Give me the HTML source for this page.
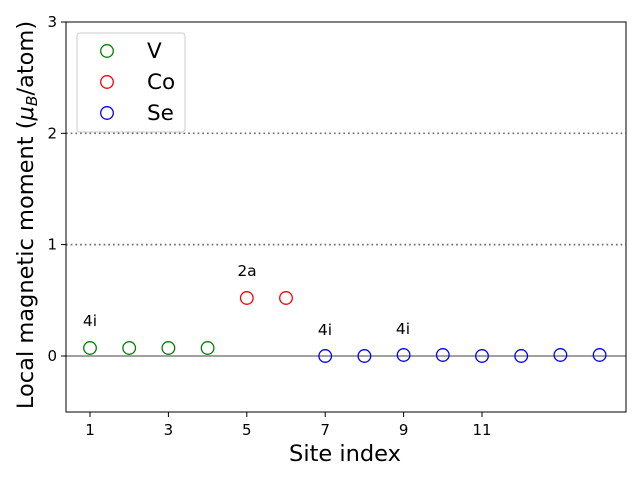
<!DOCTYPE html>
<html><head><meta charset="utf-8"><style>body{margin:0;background:#fff}svg{display:block}text{font-family:"DejaVu Sans","Liberation Sans",sans-serif}</style></head><body>
<svg width="640" height="480" xmlns="http://www.w3.org/2000/svg">
<rect width="640" height="480" fill="#fff"/>
<line x1="66" y1="133.3" x2="626" y2="133.3" stroke="#707070" stroke-width="1.7" stroke-dasharray="1.7,3"/>
<line x1="66" y1="244.6" x2="626" y2="244.6" stroke="#707070" stroke-width="1.7" stroke-dasharray="1.7,3"/>
<line x1="66" y1="356" x2="626" y2="356" stroke="#808080" stroke-width="1.5"/>
<g fill="none" stroke-width="1.3">
<circle cx="90" cy="348" r="6.3" stroke="green"/>
<circle cx="129.2" cy="348" r="6.3" stroke="green"/>
<circle cx="168.4" cy="348" r="6.3" stroke="green"/>
<circle cx="207.6" cy="348" r="6.3" stroke="green"/>
<circle cx="246.8" cy="298" r="6.3" stroke="red"/>
<circle cx="286" cy="298" r="6.3" stroke="red"/>
<circle cx="325.2" cy="356" r="6.3" stroke="blue"/>
<circle cx="364.4" cy="356" r="6.3" stroke="blue"/>
<circle cx="403.6" cy="355" r="6.3" stroke="blue"/>
<circle cx="442.8" cy="355" r="6.3" stroke="blue"/>
<circle cx="482" cy="356" r="6.3" stroke="blue"/>
<circle cx="521.2" cy="356" r="6.3" stroke="blue"/>
<circle cx="560.4" cy="355" r="6.3" stroke="blue"/>
<circle cx="599.6" cy="355" r="6.3" stroke="blue"/>
</g>
<g font-size="15.5" text-anchor="middle">
<text x="90" y="326">4i</text>
<text x="247" y="276">2a</text>
<text x="325" y="335">4i</text>
<text x="403" y="334">4i</text>
</g>
<rect x="66" y="22" width="560" height="390" fill="none" stroke="#000" stroke-width="1"/>
<g stroke="#000" stroke-width="1">
<line x1="90" y1="412" x2="90" y2="417"/><line x1="168.4" y1="412" x2="168.4" y2="417"/><line x1="246.8" y1="412" x2="246.8" y2="417"/><line x1="325.2" y1="412" x2="325.2" y2="417"/><line x1="403.6" y1="412" x2="403.6" y2="417"/><line x1="482" y1="412" x2="482" y2="417"/>
<line x1="61" y1="356" x2="66" y2="356"/><line x1="61" y1="244.6" x2="66" y2="244.6"/><line x1="61" y1="133.3" x2="66" y2="133.3"/><line x1="61" y1="22" x2="66" y2="22"/>
</g>
<g font-size="15" text-anchor="middle">
<text x="90" y="435">1</text><text x="168.4" y="435">3</text><text x="246.8" y="435">5</text><text x="325.2" y="435">7</text><text x="403.6" y="435">9</text><text x="482" y="435">11</text>
</g>
<g font-size="15" text-anchor="end">
<text x="57" y="361">0</text><text x="57" y="249.6">1</text><text x="57" y="138.3">2</text><text x="57" y="27">3</text>
</g>
<text x="345" y="461" font-size="22.5" text-anchor="middle">Site index</text>
<text transform="translate(33,215) rotate(-90)" font-size="22.5" text-anchor="middle">Local magnetic moment (<tspan font-style="italic">μ</tspan><tspan font-style="italic" font-size="15.5" dy="4">B</tspan><tspan dy="-4">/atom)</tspan></text>
<rect x="77" y="33" width="108" height="99" rx="3" fill="#fff" fill-opacity="0.8" stroke="#ccc"/>
<g fill="none" stroke-width="1.3">
<circle cx="107" cy="51" r="6.3" stroke="green"/>
<circle cx="107" cy="82" r="6.3" stroke="red"/>
<circle cx="107" cy="113" r="6.3" stroke="blue"/>
</g>
<g font-size="21.5">
<text x="147" y="58">V</text><text x="147" y="89">Co</text><text x="147" y="120">Se</text>
</g>
</svg>
</body></html>
